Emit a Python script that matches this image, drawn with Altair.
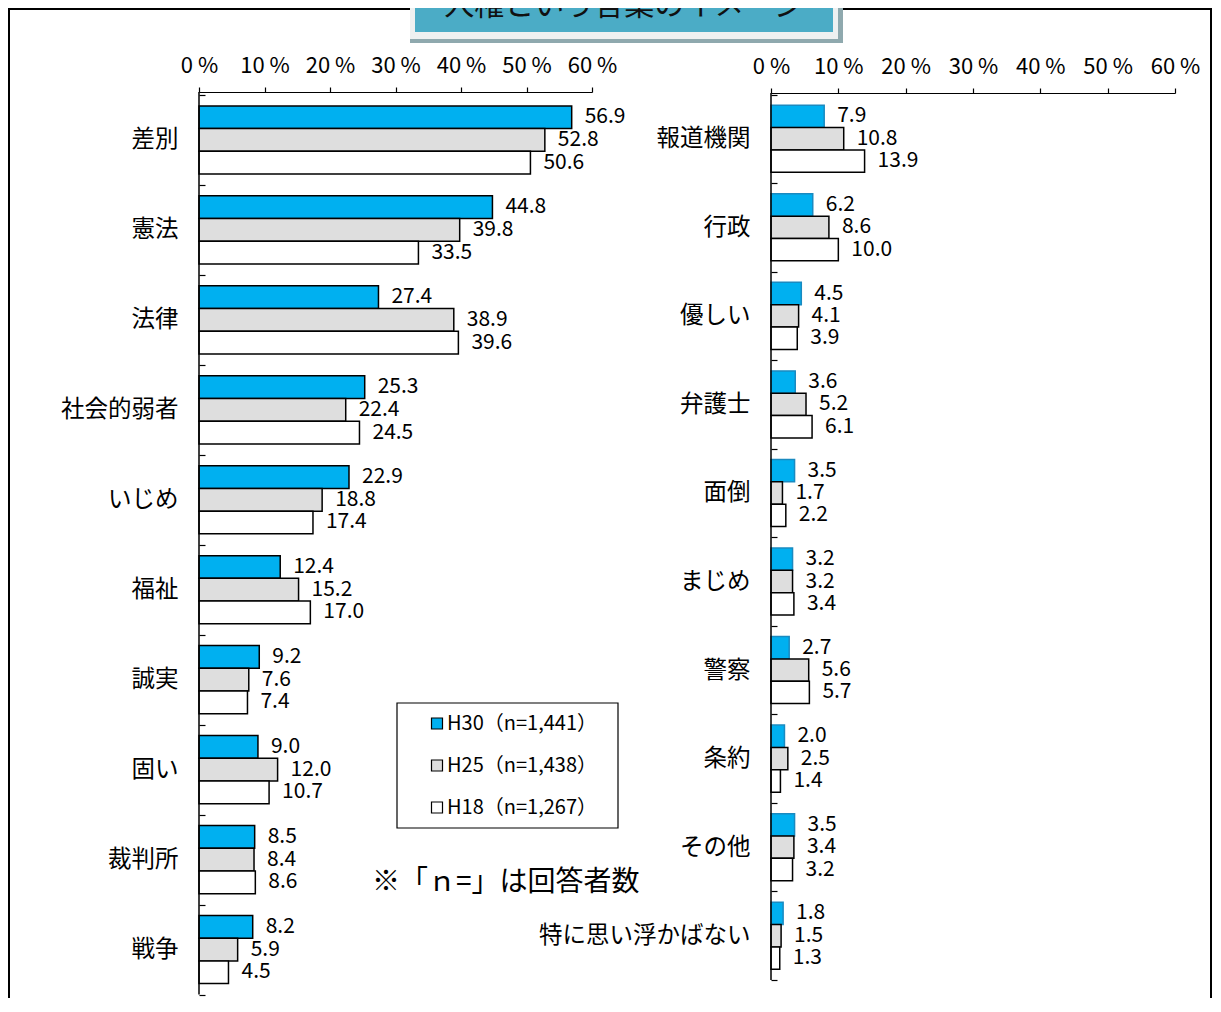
import altair as alt
import pandas as pd

FONT = "Noto Sans CJK JP"

series = ["H30（n=1,441）", "H25（n=1,438）", "H18（n=1,267）"]
fills = ["#00B0F0", "#DEDEDE", "#FFFFFF"]

left_cats = ["差別", "憲法", "法律", "社会的弱者", "いじめ", "福祉", "誠実", "固い", "裁判所", "戦争"]
left_h30 = [56.9, 44.8, 27.4, 25.3, 22.9, 12.4, 9.2, 9.0, 8.5, 8.2]
left_h25 = [52.8, 39.8, 38.9, 22.4, 18.8, 15.2, 7.6, 12.0, 8.4, 5.9]
left_h18 = [50.6, 33.5, 39.6, 24.5, 17.4, 17.0, 7.4, 10.7, 8.6, 4.5]

right_cats = ["報道機関", "行政", "優しい", "弁護士", "面倒", "まじめ", "警察", "条約", "その他", "特に思い浮かばない"]
right_h30 = [7.9, 6.2, 4.5, 3.6, 3.5, 3.2, 2.7, 2.0, 3.5, 1.8]
right_h25 = [10.8, 8.6, 4.1, 5.2, 1.7, 3.2, 5.6, 2.5, 3.4, 1.5]
right_h18 = [13.9, 10.0, 3.9, 6.1, 2.2, 3.4, 5.7, 1.4, 3.2, 1.3]

x_ticks = [0, 10, 20, 30, 40, 50, 60]
title_text = "人権という言葉のイメージ"
note_text = "※「ｎ=」は回答者数"


def long_df(cats, a, b, c):
    rows = []
    for i, cat in enumerate(cats):
        for s, vals in zip(series, (a, b, c)):
            rows.append({"cat": cat, "series": s, "value": vals[i]})
    return pd.DataFrame(rows)


left_df = long_df(left_cats, left_h30, left_h25, left_h18)
right_df = long_df(right_cats, right_h30, right_h25, right_h18)

legend = alt.Legend(
    orient="none", legendX=389, legendY=695.5, title=None,
    padding=10, symbolType="square", symbolSize=121,
    symbolStrokeColor="black", symbolStrokeWidth=1.2, symbolOffset=20,
    labelOffset=0, labelFont=FONT, labelFontSize=20, labelColor="black",
    rowPadding=22, labelLimit=400,
)


def panel(df, cats, xrange, yrange, x_axis_y, y_axis_x, h30_stroke, show_legend):
    x = alt.X(
        "value:Q",
        scale=alt.Scale(domain=[0, 60], range=xrange, nice=False),
        axis=alt.Axis(
            orient="top", offset=-x_axis_y, values=x_ticks,
            labelExpr="datum.value + ' %'", title=None, grid=False,
            domainColor="black", domainWidth=1.2, tickColor="black",
            tickSize=5, tickWidth=1.2, labelFont=FONT, labelFontSize=22,
            labelColor="black", labelPadding=10, labelFlush=False,
            labelOverlap=False,
        ),
    )
    y = alt.Y(
        "cat:N", sort=cats,
        scale=alt.Scale(range=yrange, paddingInner=0, paddingOuter=0),
        axis=alt.Axis(
            orient="left", offset=-(y_axis_x + 6), tickBand="extent",
            tickSize=6, tickColor="black", tickWidth=1.2, domain=False,
            title=None, labelFont=FONT, labelFontSize=23.5, labelColor="black",
            labelPadding=21, labelLimit=400,
        ),
    )
    yoff = alt.YOffset(
        "series:N", sort=series,
        scale=alt.Scale(domain=series, paddingInner=0, paddingOuter=0.48),
    )
    fill = alt.Fill(
        "series:N",
        scale=alt.Scale(domain=series, range=fills),
        legend=legend if show_legend else None,
    )
    stroke = (
        alt.when(alt.datum.series == series[0])
        .then(alt.value(h30_stroke))
        .otherwise(alt.value("black"))
    )
    bars = alt.Chart(df).mark_bar(strokeWidth=1.5).encode(
        x=x, y=y, yOffset=yoff, fill=fill, stroke=stroke
    )
    text = alt.Chart(df).mark_text(
        align="left", dx=13, font=FONT, fontSize=21, color="black"
    ).encode(x=x, y=y, yOffset=yoff, text=alt.Text("value:Q", format=".1f"))
    axis_line = alt.Chart(pd.DataFrame({"value": [0]})).mark_rule(
        color="black", strokeWidth=1.5
    ).encode(x=x, y=alt.value(x_axis_y), y2=alt.value(yrange[1]))
    return alt.layer(bars, text, axis_line)


left = panel(left_df, left_cats, [191, 584], [87, 986.5], 84, 191, "black", True)
right = panel(right_df, right_cats, [763, 1167], [86.5, 972], 85, 763, "#1A8AC0", False)

one = pd.DataFrame({"a": [0]})

frame = alt.Chart(one).mark_rect(
    fillOpacity=0, stroke="black", strokeWidth=2
).encode(x=alt.value(1), x2=alt.value(1203), y=alt.value(1), y2=alt.value(1100))

shadow = alt.Chart(one).mark_rect(color="#8FA9AE").encode(
    x=alt.value(402), x2=alt.value(835), y=alt.value(-5), y2=alt.value(35)
)
light = alt.Chart(one).mark_rect(color="#EEF1F1").encode(
    x=alt.value(402), x2=alt.value(830), y=alt.value(-5), y2=alt.value(31)
)
blue = alt.Chart(one).mark_rect(color="#4BACC6").encode(
    x=alt.value(407), x2=alt.value(825), y=alt.value(-5), y2=alt.value(24)
)
title = alt.Chart(one).mark_text(
    font=FONT, fontSize=30, color="#111111", align="center", baseline="alphabetic"
).encode(x=alt.value(616), y=alt.value(7), text=alt.value(title_text))

legend_box = alt.Chart(one).mark_rect(
    fill="white", stroke="black", strokeWidth=1.2
).encode(x=alt.value(389), x2=alt.value(610), y=alt.value(695), y2=alt.value(820))

note = alt.Chart(one).mark_text(
    font=FONT, fontSize=28, color="black", align="left", baseline="middle"
).encode(x=alt.value(364), y=alt.value(875), text=alt.value(note_text))

chart = (
    alt.layer(frame, shadow, light, blue, title, left, right, legend_box, note)
    .resolve_scale(x="independent", y="independent", yOffset="independent")
    .properties(width=1205, height=990, padding=0,
                autosize=alt.AutoSizeParams(type="none"))
    .configure_view(stroke=None)
)

chart.save("out.html", embed_options={"renderer": "svg", "actions": False})
